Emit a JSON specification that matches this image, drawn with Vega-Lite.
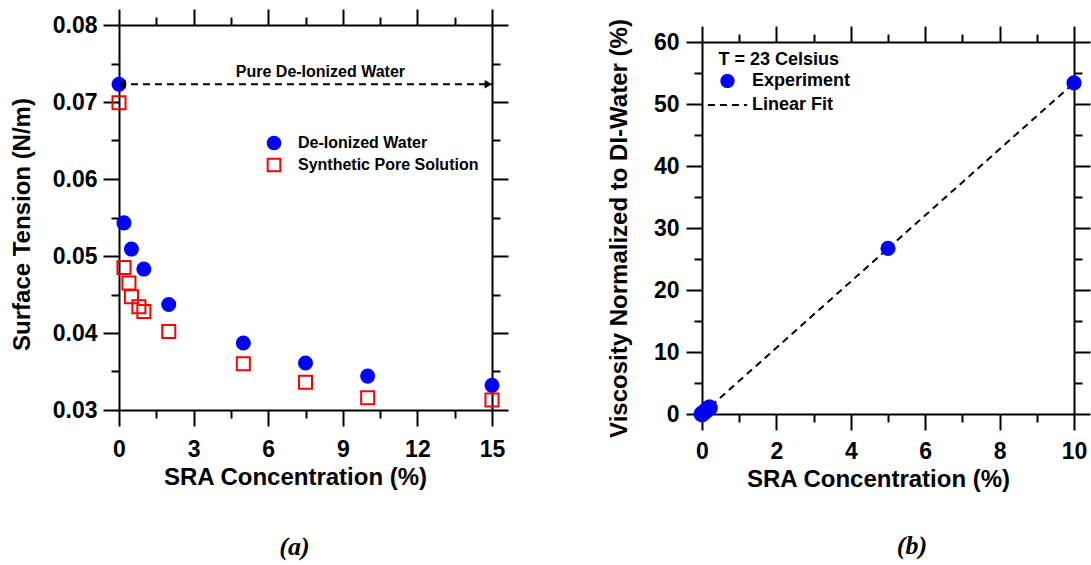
{
  "$schema": "https://vega.github.io/schema/vega-lite/v6.json",
  "background": "white",
  "padding": {"left": 10, "top": 8, "right": 5, "bottom": 5},
  "config": {
    "view": {"stroke": null},
    "axis": {"domainColor": "black", "domainWidth": 2, "tickColor": "black", "tickWidth": 2, "labelFont": "Liberation Sans", "labelFontWeight": "bold", "labelFontSize": 23, "labelColor": "black", "titleFont": "Liberation Sans", "titleFontWeight": "bold", "titleFontSize": 24, "titleColor": "black", "grid": false, "labelOverlap": false, "labelFlush": false, "labelBound": false},
    "legend": {"labelFont": "Liberation Sans", "labelFontWeight": "bold", "labelColor": "black", "titleFont": "Liberation Sans", "titleFontWeight": "bold", "titleColor": "black", "labelLimit": 300},
    "title": {"font": "Liberation Serif", "fontSize": 26, "fontStyle": "italic", "fontWeight": "bold", "color": "black"}
  },
  "spacing": 210,
  "bounds": "flush",
  "resolve": {"scale": {"x": "independent", "y": "independent", "fill": "independent", "stroke": "independent", "shape": "independent", "strokeDash": "independent"}, "legend": {"fill": "independent", "stroke": "independent", "shape": "independent", "strokeDash": "independent"}},
  "hconcat": [
    {
      "width": 373,
      "height": 385,
      "title": {"text": "(a)", "orient": "bottom", "anchor": "middle", "dx": -11, "offset": 45},
      "resolve": {"axis": {"x": "independent", "y": "independent"}},
      "layer": [
        {
          "data": {"values": [
            {"conc": 0, "tension": 0.0723, "series": "De-Ionized Water"},
            {"conc": 0.2, "tension": 0.0543, "series": "De-Ionized Water"},
            {"conc": 0.5, "tension": 0.0509, "series": "De-Ionized Water"},
            {"conc": 1.0, "tension": 0.0483, "series": "De-Ionized Water"},
            {"conc": 2.0, "tension": 0.0437, "series": "De-Ionized Water"},
            {"conc": 5.0, "tension": 0.0387, "series": "De-Ionized Water"},
            {"conc": 7.5, "tension": 0.0361, "series": "De-Ionized Water"},
            {"conc": 10.0, "tension": 0.0344, "series": "De-Ionized Water"},
            {"conc": 15.0, "tension": 0.0332, "series": "De-Ionized Water"},
            {"conc": 0, "tension": 0.0699, "series": "Synthetic Pore Solution"},
            {"conc": 0.2, "tension": 0.0485, "series": "Synthetic Pore Solution"},
            {"conc": 0.4, "tension": 0.0465, "series": "Synthetic Pore Solution"},
            {"conc": 0.5, "tension": 0.0447, "series": "Synthetic Pore Solution"},
            {"conc": 0.8, "tension": 0.0434, "series": "Synthetic Pore Solution"},
            {"conc": 1.0, "tension": 0.0428, "series": "Synthetic Pore Solution"},
            {"conc": 2.0, "tension": 0.0402, "series": "Synthetic Pore Solution"},
            {"conc": 5.0, "tension": 0.0360, "series": "Synthetic Pore Solution"},
            {"conc": 7.5, "tension": 0.0336, "series": "Synthetic Pore Solution"},
            {"conc": 10.0, "tension": 0.0316, "series": "Synthetic Pore Solution"},
            {"conc": 15.0, "tension": 0.0313, "series": "Synthetic Pore Solution"}
          ]},
          "mark": {"type": "point", "size": 170, "strokeWidth": 2, "opacity": 1},
          "encoding": {
            "x": {"field": "conc", "type": "quantitative", "scale": {"domain": [0, 15], "nice": false, "zero": false},
              "axis": {"orient": "bottom", "values": [0, 3, 6, 9, 12, 15], "tickSize": 16,
                "labelPadding": 12, "title": "SRA Concentration (%)", "titlePadding": 4, "titleX": 176}},
            "y": {"field": "tension", "type": "quantitative", "scale": {"domain": [0.03, 0.08], "nice": false, "zero": false},
              "axis": {"orient": "left", "values": [0.03, 0.04, 0.05, 0.06, 0.07, 0.08], "format": ".2f", "tickSize": 16,
                "labelPadding": 6, "title": "Surface Tension (N/m)", "titlePadding": 18, "titleY": 199}},
            "fill": {"field": "series", "type": "nominal", "scale": {"domain": ["De-Ionized Water", "Synthetic Pore Solution"], "range": ["#0000ff", "transparent"]},
              "legend": {"orient": "none", "legendX": 147, "legendY": 110, "title": null, "labelFontSize": 16, "symbolSize": 160, "symbolStrokeWidth": 2, "labelOffset": 16, "rowPadding": 0}},
            "stroke": {"field": "series", "type": "nominal", "scale": {"domain": ["De-Ionized Water", "Synthetic Pore Solution"], "range": ["#0000ff", "#ff0000"]},
              "legend": {"orient": "none", "legendX": 147, "legendY": 110, "title": null, "labelFontSize": 16, "symbolSize": 160, "symbolStrokeWidth": 2, "labelOffset": 16, "rowPadding": 0}},
            "shape": {"field": "series", "type": "nominal", "scale": {"domain": ["De-Ionized Water", "Synthetic Pore Solution"], "range": ["circle", "square"]},
              "legend": {"orient": "none", "legendX": 147, "legendY": 110, "title": null, "labelFontSize": 16, "symbolSize": 160, "symbolStrokeWidth": 2, "labelOffset": 16, "rowPadding": 0}}
          }
        },
        {
          "data": {"values": [{"conc": 0, "tension": 0.0723}, {"conc": 15, "tension": 0.0723}]},
          "mark": {"type": "line", "color": "black", "strokeWidth": 2, "strokeDash": [7, 5]},
          "encoding": {
            "x": {"field": "conc", "type": "quantitative",
              "axis": {"orient": "top", "values": [0, 3, 6, 9, 12, 15], "tickSize": 16, "labels": false, "title": null}},
            "y": {"field": "tension", "type": "quantitative",
              "axis": {"orient": "right", "values": [0.03, 0.04, 0.05, 0.06, 0.07, 0.08], "tickSize": 16, "labels": false, "title": null}}
          }
        },
        {
          "data": {"values": [{"conc": 0.12, "tension": 0.0723}]},
          "mark": {"type": "point", "shape": "triangle-left", "filled": true, "color": "black", "size": 70, "opacity": 1},
          "encoding": {
            "x": {"field": "conc", "type": "quantitative",
              "axis": {"orient": "bottom", "values": [1.5, 4.5, 7.5, 10.5, 13.5], "tickSize": 8, "labels": false, "domain": false, "title": null}},
            "y": {"field": "tension", "type": "quantitative",
              "axis": {"orient": "left", "values": [0.035, 0.045, 0.055, 0.065, 0.075], "tickSize": 8, "labels": false, "domain": false, "title": null}}
          }
        },
        {
          "data": {"values": [{"conc": 14.85, "tension": 0.0723}]},
          "mark": {"type": "point", "shape": "triangle-right", "filled": true, "color": "black", "size": 70, "opacity": 1},
          "encoding": {
            "x": {"field": "conc", "type": "quantitative",
              "axis": {"orient": "top", "values": [1.5, 4.5, 7.5, 10.5, 13.5], "tickSize": 8, "labels": false, "domain": false, "title": null}},
            "y": {"field": "tension", "type": "quantitative",
              "axis": {"orient": "right", "values": [0.035, 0.045, 0.055, 0.065, 0.075], "tickSize": 8, "labels": false, "domain": false, "title": null}}
          }
        },
        {
          "data": {"values": [{"conc": 8.1, "tension": 0.0739, "label": "Pure De-Ionized Water"}]},
          "mark": {"type": "text", "font": "Liberation Sans", "fontWeight": "bold", "fontSize": 16, "color": "black", "align": "center", "baseline": "middle"},
          "encoding": {
            "x": {"field": "conc", "type": "quantitative", "axis": null},
            "y": {"field": "tension", "type": "quantitative", "axis": null},
            "text": {"field": "label", "type": "nominal"}
          }
        }
      ]
    },
    {
      "spacing": 16,
      "bounds": "flush",
      "resolve": {"legend": {"fill": "independent", "stroke": "independent", "shape": "independent", "strokeDash": "independent"}},
      "vconcat": [
        {
          "width": 372,
          "height": 1,
          "data": {"values": [{}]},
          "mark": {"type": "point", "opacity": 0},
          "encoding": {}
        },
        {
          "width": 372,
          "height": 372,
          "title": {"text": "(b)", "orient": "bottom", "anchor": "middle", "dx": 24, "offset": 42},
          "resolve": {"axis": {"x": "independent", "y": "independent"}},
          "layer": [
            {
              "data": {"values": [{"conc": 0, "visc": 0}, {"conc": 5, "visc": 26.7}]},
              "mark": {"type": "line", "color": "black", "strokeWidth": 2, "strokeDash": [7, 5]},
              "encoding": {
                "x": {"field": "conc", "type": "quantitative", "scale": {"domain": [0, 10], "nice": false, "zero": false},
                  "axis": {"orient": "top", "values": [0, 2, 4, 6, 8, 10], "tickSize": 16, "labels": false, "title": null}},
                "y": {"field": "visc", "type": "quantitative", "scale": {"domain": [0, 60], "nice": false, "zero": false},
                  "axis": {"orient": "right", "values": [0, 10, 20, 30, 40, 50, 60], "tickSize": 16, "labels": false, "title": null}}
              }
            },
            {
              "data": {"values": [{"conc": 5, "visc": 26.7}, {"conc": 10, "visc": 53.4}]},
              "mark": {"type": "line", "color": "black", "strokeWidth": 2, "strokeDash": [7, 5]},
              "encoding": {
                "x": {"field": "conc", "type": "quantitative",
                  "axis": {"orient": "top", "values": [1, 3, 5, 7, 9], "tickSize": 8, "labels": false, "domain": false, "title": null}},
                "y": {"field": "visc", "type": "quantitative",
                  "axis": {"orient": "right", "values": [5, 15, 25, 35, 45, 55], "tickSize": 8, "labels": false, "domain": false, "title": null}}
              }
            },
            {
              "data": {"values": [
                {"conc": 0, "visc": 0, "series": "Experiment"},
                {"conc": 0.1, "visc": 0.5, "series": "Experiment"},
                {"conc": 0.2, "visc": 1.0, "series": "Experiment"}
              ]},
              "mark": {"type": "point", "size": 230, "strokeWidth": 1.5, "opacity": 1},
              "encoding": {
                "x": {"field": "conc", "type": "quantitative",
                  "axis": {"orient": "bottom", "values": [0, 2, 4, 6, 8, 10], "tickSize": 16,
                    "labelPadding": 10, "title": "SRA Concentration (%)", "titlePadding": 4, "titleX": 176}},
                "y": {"field": "visc", "type": "quantitative",
                  "axis": {"orient": "left", "values": [0, 10, 20, 30, 40, 50, 60], "tickSize": 16,
                    "labelPadding": 7, "title": "Viscosity Normalized to DI-Water (%)", "titlePadding": 22}},
                "fill": {"field": "series", "type": "nominal", "scale": {"domain": ["Experiment", "Linear Fit"], "range": ["#0000ff", "transparent"]},
                  "legend": {"orient": "none", "legendX": 16.5, "legendY": 9, "title": "T = 23 Celsius", "titleFontSize": 18, "titlePadding": 3, "labelFontSize": 18, "symbolSize": 150, "symbolStrokeWidth": 2, "labelOffset": 15.5, "rowPadding": 4}},
                "stroke": {"field": "series", "type": "nominal", "scale": {"domain": ["Experiment", "Linear Fit"], "range": ["#0000ff", "black"]},
                  "legend": {"orient": "none", "legendX": 16.5, "legendY": 9, "title": "T = 23 Celsius", "titleFontSize": 18, "titlePadding": 3, "labelFontSize": 18, "symbolSize": 150, "symbolStrokeWidth": 2, "labelOffset": 15.5, "rowPadding": 4}},
                "shape": {"field": "series", "type": "nominal", "scale": {"domain": ["Experiment", "Linear Fit"], "range": ["circle", "M-3.2,0L3.2,0"]},
                  "legend": {"orient": "none", "legendX": 16.5, "legendY": 9, "title": "T = 23 Celsius", "titleFontSize": 18, "titlePadding": 3, "labelFontSize": 18, "symbolSize": 150, "symbolStrokeWidth": 2, "labelOffset": 15.5, "rowPadding": 4}},
                "strokeDash": {"field": "series", "type": "nominal", "scale": {"domain": ["Experiment", "Linear Fit"], "range": [[1, 0], [7, 5]]},
                  "legend": {"orient": "none", "legendX": 16.5, "legendY": 9, "title": "T = 23 Celsius", "titleFontSize": 18, "titlePadding": 3, "labelFontSize": 18, "symbolSize": 150, "symbolStrokeWidth": 2, "labelOffset": 15.5, "rowPadding": 4}}
              }
            },
            {
              "data": {"values": [
                {"conc": 5, "visc": 26.7},
                {"conc": 10, "visc": 53.4}
              ]},
              "mark": {"type": "point", "size": 230, "strokeWidth": 1.5, "opacity": 1, "filled": true, "color": "#0000ff"},
              "encoding": {
                "x": {"field": "conc", "type": "quantitative",
                  "axis": {"orient": "bottom", "values": [1, 3, 5, 7, 9], "tickSize": 8, "labels": false, "domain": false, "title": null}},
                "y": {"field": "visc", "type": "quantitative",
                  "axis": {"orient": "left", "values": [5, 15, 25, 35, 45, 55], "tickSize": 8, "labels": false, "domain": false, "title": null}}
              }
            }
          ]
        }
      ]
    }
  ]
}
